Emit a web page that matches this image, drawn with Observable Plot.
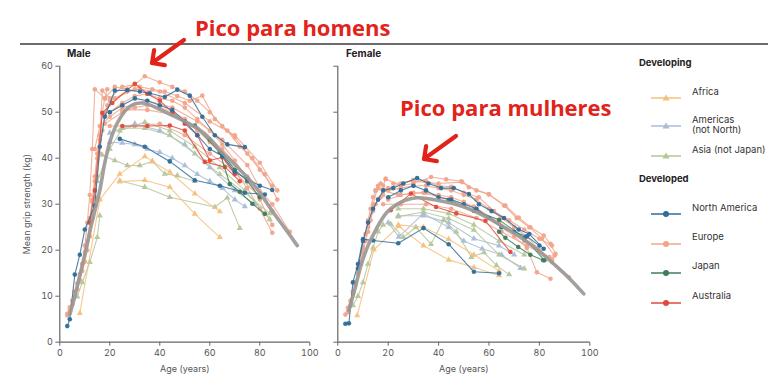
<!DOCTYPE html>
<html><head><meta charset="utf-8">
<script src="https://cdn.jsdelivr.net/npm/d3@7"></script>
<script src="https://cdn.jsdelivr.net/npm/@observablehq/plot@0.6"></script>
<style>
body{margin:0;width:768px;height:386px;position:relative;background:#fff;overflow:hidden;font-family:Inter,"Noto Sans",sans-serif;color:#333}
.abs{position:absolute}
.ptitle{font-size:10px;font-weight:700;color:#222}
.lgh{font-size:9.5px;font-weight:700;color:#222}
.lgt{font-size:9.5px;line-height:10.5px;color:#333}
.anno{font-family:"Open Sans",sans-serif;font-weight:700;font-size:22px;color:#e2231a;white-space:nowrap}
</style></head><body>
<div id="rule" class="abs" style="left:20px;top:43px;width:748px;height:1.5px;background:#6b6b6b"></div>
<div id="male" class="abs" style="left:0;top:0"></div>
<div id="female" class="abs" style="left:320px;top:0"></div>
<div class="abs ptitle" style="left:67px;top:47px">Male</div>
<div class="abs ptitle" style="left:346px;top:47px">Female</div>
<div id="legend"></div>
<div class="abs anno" style="left:195px;top:12px">Pico para homens</div>
<div class="abs anno" style="left:400px;top:92px">Pico para mulheres</div>
<svg class="abs" style="left:0;top:0;pointer-events:none" width="768" height="386" id="arrows"></svg>
<script>
// ---------- data (age in years, mean grip strength in kg) ----------
const regions = ["Africa", "Americas (not North)", "Asia (not Japan)", "North America", "Europe", "Japan", "Australia"];
const regionColors = ["#f6c07c", "#a9bcd6", "#b4c69a", "#2f6d99", "#f1a48b", "#3f7c5c", "#e04a3a"];
const regionSymbols = ["triangle", "triangle", "triangle", "circle", "circle", "circle", "circle"];
const drawOrder = ["Europe", "Americas (not North)", "Asia (not Japan)", "Africa", "Australia", "Japan", "North America"];
const xTicks = [0, 20, 40, 60, 80, 100];
const yTicks = [0, 10, 20, 30, 40, 50, 60];

const maleEurope = [
  [[3,5.8],[4,7],[5,8.2],[6,9.8],[7,11.5],[8,13.5],[9,15.5],[10,17.5],[11,20],[12,23],[13,27],[14,31.5],[15,36],[16,41],[17,46],[18,49.5],[19,51.5]],
  [[3,6.2],[4,7.6],[5,9],[6,11],[7,12.8],[8,14.8],[9,17],[10,19.5],[11,22],[12,26],[13,30.5],[14,36],[15,41],[16,45],[17,50],[18,53],[19,55]],
  [[12,27],[13,31],[14,35],[15,40],[16,44],[17,54.7],[20,53],[25,55.5],[30,56],[34,57.8],[40,56.5],[45,55.5],[50,54.5],[55,52.5],[60,50],[65,47],[70,44.5],[75,41],[80,37.5],[85,34]],
  [[20,50],[25,52],[30,53.5],[35,54],[40,53],[45,52.5],[50,51],[55,48.5],[60,46],[65,43],[70,39.5],[75,35.5],[80,31],[85,25.5]],
  [[18,47.5],[25,50],[30,51],[35,51.5],[40,51],[45,50],[50,48.5],[55,46],[60,43.5],[65,40.5],[70,37],[75,33.5],[80,29],[85,23.8]],
  [[20,47],[30,47],[40,47.5],[50,45],[60,41],[70,37],[80,31.5]],
  [[22,53],[27,54.5],[32,55.5],[37,55],[42,54.5],[47,53.5],[52,52.5],[57,53.6],[62,48.5],[67,46],[72,42.5],[77,40],[82,36.5],[87,31]],
  [[25,50.5],[35,50.5],[45,49.5],[55,46.5],[65,42],[75,36],[85,30],[92,24]],
  [[20,52.5],[30,55],[40,54.5],[50,52],[60,48],[70,45],[80,39],[87,33]],
  [[14,42],[16,47],[20,49],[25,51],[35,52.5],[45,51],[55,48],[65,44],[75,38.5],[85,28.5]],
  [[9,17],[10,21],[11,26],[12,32],[13,42],[14,55],[18,53],[22,55.5],[27,55]]
];
const maleNorthAmerica = [
  [[3,3.5],[4,5],[6,14.7],[8,19],[10,24.5],[14,29.7],[16,42.5],[18,49],[22,54.7],[27,54.8],[32,54.5],[36,54.1],[42,53.3],[47,54.9],[52,53.6],[57,49],[62,45],[67,43],[74,42.4]],
  [[24,44.2],[34,42.5],[44,39.3],[54,35.2],[64,34],[74,32.5],[82,32.1]],
  [[20,50],[25,51.5],[30,53],[35,52.5],[40,51.5],[45,50.5],[50,48],[55,45],[60,42],[65,40.5],[70,37],[75,35.5],[80,34],[85,33.1]]
];
const maleAustralia = [
  [[12,26],[14,33],[17,49.8],[21,52],[30,56.2],[35,54],[40,52.5],[45,50],[50,47.5],[55,45],[60,39.5],[65,40.2],[70,36.5]],
  [[25,47],[35,47],[44,47.1],[50,46],[58,39.2],[66,38.1],[72,35]]
];
const maleJapan = [
  [[54,47.1],[64,41.3],[68,34.4],[72,32.7],[77,30.1],[82,27.9]],
  [[60,44],[65,41],[70,37.5],[75,35],[80,31.5]]
];
const maleAmericas = [
  [[20,43.5],[25,43.3],[30,43],[35,42],[40,41.3],[45,40],[50,38.4],[55,36.5],[60,35],[65,33.5],[70,31],[74,29.5]],
  [[20,45.5],[30,47.5],[40,46],[50,43],[60,38],[70,33],[78,30]]
];
const maleAsia = [
  [[7,9.9],[9,13],[12,17.4],[15,22.8],[16,27.5]],
  [[17,40.7],[22,39.5],[27,38.4],[32,38.4],[37,39.3],[42,36.6],[47,36.2],[54,35]],
  [[24,46],[34,47.8],[44,46],[54,42.5],[64,38],[74,33],[84,26.7]],
  [[24,35.1],[34,33.7],[44,31.5],[62,29.4],[67,31.4],[72,24.8]],
  [[15,35],[20,42],[25,46.5],[34,46.5],[44,45],[54,41],[64,36.5],[74,32.5],[84,28]]
];
const maleAfrica = [
  [[8,6.3],[16,31],[24,36.6],[34,40.4],[37,39.3],[44,37],[54,32.3],[64,28.4]],
  [[24,34.9],[34,35.2],[44,33.7],[54,27.9],[64,22.8]]
];
const maleFit = [[4,6],[6,10],[8,14.5],[10,19],[12,24],[14,28.5],[16,33],[18,39],[20,43.5],[22,46.5],[24,48.6],[27,50.8],[30,51.8],[33,52],[36,51.6],[40,50.6],[45,49.3],[50,48],[55,46.5],[60,44.3],[64,41.7],[68,39.7],[72,37.5],[76,35.2],[80,32.5],[85,28.5],[90,24.8],[95,21]];

const femaleEurope = [
  [[3,6],[4,7.5],[5,9],[6,11],[7,13],[8,15],[9,17],[10,19.5],[11,22],[12,24],[13,26.5],[14,28.5],[15,30],[16,31],[17,31.5],[18,32]],
  [[4,6.5],[5,8],[6,10.5],[7,12.5],[8,15],[9,17.5],[10,20.5],[11,23.5],[12,26.5],[13,29],[14,31.5],[15,33],[16,33.5],[17,34.5],[18,34],[19,35.5]],
  [[19,35.5],[25,34],[30,34.5],[37,35.9],[43,35.4],[49,35],[55,33],[60,32.1],[66,29.7],[71,27],[76,25],[81,22.5],[86,18.8]],
  [[20,33],[25,33.5],[30,34],[35,34],[40,33.5],[45,33],[50,32],[55,31],[60,29],[65,27],[70,25],[75,23],[80,20],[85,17.5],[91.7,14.1]],
  [[20,31],[25,32],[30,32.5],[35,32.5],[40,32],[45,31.5],[50,30.5],[55,29],[60,27],[65,25],[70,23],[75,20.5],[79,15.2],[84.4,13.8]],
  [[18,30],[25,30],[35,30],[45,29],[55,27],[65,24],[75,21],[85,18]],
  [[22,34.5],[30,35],[40,34.5],[49.4,34.8],[52,33.7],[59.9,32.2],[66.5,29.7],[71.8,27.1],[76.4,25],[81.7,23.2],[84.4,21.4],[86.4,19.2]],
  [[15,33],[20,33.5],[25,34.5],[30,35.3],[35,35],[40,34],[45,33.8],[50,32.5],[56,31.5],[62,28.5],[68,26.5],[74,24.5],[80,22.5],[85,21]],
  [[12,25],[14,30],[16,34],[18,33],[24,32],[34,32.5],[44,31],[54,29.5],[64,26],[74,22],[84,18.5]]
];
const femaleNorthAmerica = [
  [[3,4],[4.4,4.1],[6,13],[8,17],[10,22.4],[14,22.1],[24,21.5],[34,24.8],[44,21.3],[54,15.3],[64,15]],
  [[8,16],[10,22],[12,26],[14,29],[16,31],[18,33],[22,33.5],[26,34.5],[31.5,35.7],[36,34.5],[41,33.5],[46,33.5],[52,32.2],[56,30],[61,28.5],[66,27],[71.8,24.5],[76,23.5],[81.7,20.3]],
  [[20,31.5],[25,33],[30,34],[35,33],[40,31.5],[45,31],[50,30],[55,29],[60,27],[65,25],[70,24],[75,23],[80,21]]
];
const femaleAustralia = [
  [[21,28.7],[29,32.3],[39,29.4],[47,28],[58.6,26.4],[68.5,19.6]]
];
const femaleJapan = [
  [[44,30.9],[54,28.6],[64,26.6],[74,22.7],[82,17.8]],
  [[64,24],[66.5,22.7],[71.6,20.7],[76.4,19],[81.5,17.8]]
];
const femaleAmericas = [
  [[20,26],[24.2,22.9],[34,28],[44,25],[50,22],[57.3,20.3],[65,19],[72.5,16.1]],
  [[24,27.5],[34,27.5],[44,26],[54,22.5],[64,21],[70,19]]
];
const femaleAsia = [
  [[6,8],[8,10],[10,13],[12,17],[14,20.5],[16,24],[18,25.5]],
  [[21,25.7],[26,22.8],[31,25],[37,21.3],[42,26.6],[47,24],[53,18.5],[58,19.5],[63,16.7],[68,14.7]],
  [[24,27.3],[34,28.3],[44,26.9],[54,24.4],[64,19],[74,16]],
  [[24,29],[34,29],[44,28],[54,25.5],[64,22],[74,19]]
];
const femaleAfrica = [
  [[7.7,5.8],[14.3,20.1],[24.2,25.2],[34,21],[44,17.9],[54,16.3],[64,14.5]],
  [[24,25.5],[34,25],[44,22.4],[54,19],[64,15.5]]
];
const femaleFit = [[4.4,6.9],[7,12],[9,16.3],[12,21],[14.3,23.6],[17,26.3],[19.6,28.3],[23,29.8],[27,30.9],[31.5,31.4],[36,31.2],[41,30.7],[46,30.1],[52,29],[59,27.2],[66,25],[72.5,22.8],[79,20.2],[85.7,17],[92,13.8],[97.6,10.5]];

// ---------- build tidy tables ----------
const seriesBySex = {
  Male: {"Africa": maleAfrica, "Americas (not North)": maleAmericas, "Asia (not Japan)": maleAsia, "North America": maleNorthAmerica, "Europe": maleEurope, "Japan": maleJapan, "Australia": maleAustralia},
  Female: {"Africa": femaleAfrica, "Americas (not North)": femaleAmericas, "Asia (not Japan)": femaleAsia, "North America": femaleNorthAmerica, "Europe": femaleEurope, "Japan": femaleJapan, "Australia": femaleAustralia}
};
function tidy(sex, region) {
  return seriesBySex[sex][region].flatMap((s, i) => s.map(([age, kg]) => ({sex, region, id: `${sex}-${region}-${i}`, age, kg})));
}
const fitRows = (arr) => arr.map(([age, kg]) => ({age, kg}));

function panel(sex, width, ml, mr) {
  const marks = [];
  for (const region of drawOrder) {
    const rows = tidy(sex, region);
    marks.push(Plot.line(rows, {x: "age", y: "kg", z: "id", stroke: "region", strokeWidth: 1.1, strokeOpacity: 0.85}));
    marks.push(Plot.dot(rows, {x: "age", y: "kg", fill: "region", symbol: "region", r: 2.3, fillOpacity: 0.95}));
  }
  marks.push(Plot.line(fitRows(sex === "Male" ? maleFit : femaleFit), {x: "age", y: "kg", stroke: "#9b9896", strokeWidth: 3.6, strokeOpacity: 0.92, curve: "catmull-rom"}));
  const isMale = sex === "Male";
  return Plot.plot({
    width, height: 386,
    marginLeft: ml, marginRight: mr, marginTop: 65.7, marginBottom: 44.3,
    style: {fontFamily: "Inter, 'Noto Sans', sans-serif", fontSize: "9px", color: "#555", overflow: "visible"},
    x: {domain: [0, 100]},
    y: {domain: [0, 60]},
    color: {domain: regions, range: regionColors},
    symbol: {domain: regions, range: regionSymbols},
    marks: [
      Plot.axisX({ticks: xTicks, tickSize: 4, tickPadding: 3, stroke: "#666", fill: "#555",
        label: "Age (years)", labelAnchor: "center", labelArrow: "none", labelOffset: 30}),
      Plot.axisY({ticks: yTicks, tickSize: 4, tickPadding: 3, stroke: "#666", fill: "#555",
        tickFormat: isMale ? (d => d) : (() => ""),
        label: isMale ? "Mean grip strength (kg)" : null, labelAnchor: "center", labelArrow: "none", labelOffset: 36}),
      Plot.ruleX([0], {stroke: "#666", strokeWidth: 1.2}),
      Plot.ruleY([0], {stroke: "#666", strokeWidth: 1.2, x1: 0, x2: 100}),
      ...marks
    ]
  });
}
document.getElementById("male").append(panel("Male", 320, 59.3, 10.7));
document.getElementById("female").append(panel("Female", 280, 17.3, 10.7));

// ---------- legend ----------
const legendItems = [
  {head: "Developing", y: 63},
  {region: "Africa", y: 92, text: "Africa"},
  {region: "Americas (not North)", y: 120, text: "Americas<br>(not North)"},
  {region: "Asia (not Japan)", y: 150, text: "Asia (not Japan)"},
  {head: "Developed", y: 179},
  {region: "North America", y: 208, text: "North America"},
  {region: "Europe", y: 237.5, text: "Europe"},
  {region: "Japan", y: 266.5, text: "Japan"},
  {region: "Australia", y: 296.5, text: "Australia"}
];
const lg = document.getElementById("legend");
for (const it of legendItems) {
  if (it.head) {
    const d = document.createElement("div");
    d.className = "abs lgh"; d.style.left = "639px"; d.style.top = (it.y - 6.5) + "px"; d.textContent = it.head;
    lg.append(d);
  } else {
    const i = regions.indexOf(it.region);
    const c = regionColors[i];
    const sym = regionSymbols[i] === "circle"
      ? `<circle cx="15" cy="5" r="3" fill="${c}"/>`
      : `<path d="M15,1.6L18.6,7.6L11.4,7.6Z" fill="${c}"/>`;
    const s = document.createElement("div");
    s.className = "abs"; s.style.left = "651px"; s.style.top = (it.y - 5) + "px";
    s.innerHTML = `<svg width="30" height="10"><line x1="0" y1="5" x2="30" y2="5" stroke="${c}" stroke-width="1.5"/>${sym}</svg>`;
    lg.append(s);
    const t = document.createElement("div");
    t.className = "abs lgt"; t.style.left = "692px"; t.style.top = (it.y - 5.5) + "px"; t.innerHTML = it.text;
    lg.append(t);
  }
}

// ---------- annotation arrows ----------
function arrow(x1, y1, x2, y2) {
  const dx = x1 - x2, dy = y1 - y2, L = Math.hypot(dx, dy);
  const ux = dx / L, uy = dy / L, h = 13, a = Math.PI / 4;
  const r = (t) => [x2 + h * (ux * Math.cos(t) - uy * Math.sin(t)), y2 + h * (ux * Math.sin(t) + uy * Math.cos(t))];
  const [ax, ay] = r(a), [bx, by] = r(-a);
  return `<path d="M${x1},${y1}L${x2},${y2}M${ax},${ay}L${x2},${y2}L${bx},${by}" fill="none" stroke="#e2231a" stroke-width="4.2" stroke-linecap="round" stroke-linejoin="round"/>`;
}
document.getElementById("arrows").innerHTML = arrow(184, 40, 152, 63) + arrow(456, 136, 424, 159);
</script>
</body></html>
